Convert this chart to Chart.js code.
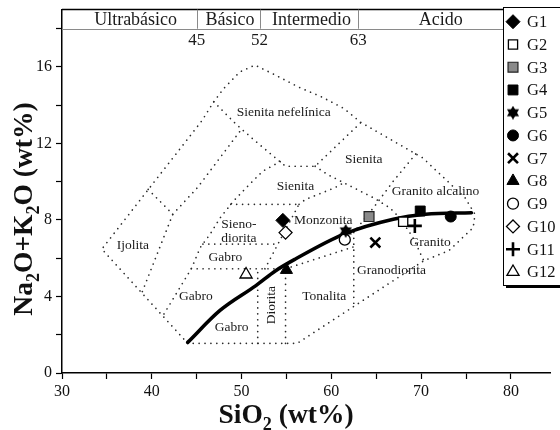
<!DOCTYPE html>
<html><head><meta charset="utf-8">
<script src="https://cdn.jsdelivr.net/npm/chart.js@4.4.1/dist/chart.umd.min.js"></script>
<style>html,body{margin:0;padding:0;background:#fff}canvas{display:block}</style>
</head><body>
<canvas id="c" width="560" height="430"></canvas>
<script>
// ---------------- DATA ----------------
const groups  = ['G1','G2','G3','G4','G5','G6','G7','G8','G9','G10','G11','G12'];
const sio2    = [54.6, 68.0, 64.2, 69.9, 61.6, 73.3, 64.9, 55.0, 61.5, 54.9, 69.3, 50.5];
const alkalis = [7.98, 7.91, 8.18, 8.47, 7.43, 8.18, 6.82, 5.39, 6.97, 7.34, 7.69, 5.15];

// alkaline / subalkaline divide (thick curve)
const curveSiO2 = [44.0, 47.6, 51.6, 53.8, 56.0, 61.4, 66.9, 70.5, 75.6];
const curveAlk  = [1.6, 3.27, 4.57, 5.35, 5.96, 7.26, 8.04, 8.3, 8.38];

// axis ticks
const xTickValues = [30,35,40,45,50,55,60,65,70,75,80];
const yTickValues = [0,2,4,6,8,10,12,14,16,18];

// silica classes (top band)
const classNames   = ['Ultrabásico','Básico','Intermedio','Acido'];
const classCenters = [38.2, 48.7, 57.8, 72.2];
const classLimits  = [45, 52, 63];

// field boundaries (SiO2, Na2O+K2O)
const outerLine    = [[44.0,1.55],[34.44,6.48],[45.6,13.2],[46.9,14.18],[48.0,14.87],[49.8,15.74],[51.5,16.1],[53.8,15.57],[56.3,14.96],[58.9,14.44],[61.4,13.83],[63.3,13.1],[70.2,11.24],[74.9,9.16],[76.0,8.3],[75.8,7.6],[73.1,6.4],[70.3,5.87],[56.2,1.55],[44.0,1.55]];
const ijolitaLine  = [[39.6,9.6],[42.34,8.3],[38.9,4.2]];
const tephriteLine = [[42.34,8.3],[45.1,9.7],[50.0,12.75]];
const gabbroLine   = [[54.3,11.05],[52.35,10.55],[50.5,9.68],[49.1,8.99],[47.6,8.1],[46.5,7.26],[45.4,6.56],[44.4,5.45],[43.6,4.83],[41.25,3.0]];
const nephLine     = [[46.9,14.18],[49.4,13.0],[51.6,12.1],[54.9,10.81],[58.2,10.81],[63.3,13.1]];
const syeniteLine  = [[58.2,10.81],[59.6,10.37],[61.8,9.85],[64.7,9.16],[66.5,8.64],[67.6,8.12],[69.1,7.08],[70.3,5.87]];
const alkGranLine  = [[69.4,11.45],[66.9,10.03],[65.0,8.83],[62.5,7.35]];
const granodLine   = [[62.5,7.35],[62.5,3.45]];
const tonalitaTop  = [[54.9,5.45],[62.5,6.6]];
const dioritaLeft  = [[51.8,1.55],[51.8,5.45]];
const dioritaRight = [[54.9,1.55],[54.9,5.45]];
const gabbroTop    = [[44.4,5.45],[54.9,5.45]];
const syenoBottom  = [[45.7,6.74],[54.05,6.74]];
const syenoTop     = [[48.8,8.82],[56.4,8.82]];
const monzLeft     = [[52.6,5.45],[56.4,8.82]];
const monzTop      = [[56.4,8.82],[57.1,9.07],[60.35,9.68],[61.4,9.95]];
const fieldLines = [outerLine, ijolitaLine, tephriteLine, gabbroLine, nephLine, syeniteLine, alkGranLine,
  granodLine, tonalitaTop, dioritaLeft, dioritaRight, gabbroTop, syenoBottom, syenoTop, monzLeft, monzTop];

// field names and their anchor (SiO2, Na2O+K2O)
const fieldNames = ['Sienita nefelínica','Sienita','Sienita','Granito alcalino','Monzonita','Sieno-','diorita',
  'Gabro','Ijolita','Gabro','Gabro','Diorita','Tonalita','Granodiorita','Granito'];
const fieldX = [54.7, 63.6, 56.0, 71.6, 59.1, 49.7, 49.7, 48.2, 37.9, 44.9, 48.9, 53.35, 59.2, 66.7, 71.0];
const fieldY = [13.6, 11.15, 9.76, 9.5, 7.95, 7.75, 7.05, 6.05, 6.65, 4.0, 2.4, 3.55, 4.0, 5.35, 6.85];
const verticalNames = ['Diorita'];

// ---------------- STYLE ----------------
const FONT = "'Liberation Serif','Times New Roman',serif";
Chart.defaults.font.family = FONT;

function makeHexagram(size) {
  const c = document.createElement('canvas'); c.width = c.height = size;
  const g = c.getContext('2d'); const r = size / 2;
  g.fillStyle = '#000';
  [-Math.PI / 2, Math.PI / 2].forEach(off => {
    g.beginPath();
    for (let i = 0; i < 3; i++) {
      const a = off + i * 2 * Math.PI / 3;
      const px = r + r * Math.cos(a), py = r + r * Math.sin(a);
      i ? g.lineTo(px, py) : g.moveTo(px, py);
    }
    g.closePath(); g.fill();
  });
  return c;
}
const star = makeHexagram(14);
const markerStyles = [
  {pointStyle:'rectRot',  radius:7,   bg:'#000',    border:'#000', bw:1},
  {pointStyle:'rect',     radius:6.5, bg:'#fff',    border:'#000', bw:1.3},
  {pointStyle:'rect',     radius:7,   bg:'#8a8a8a', border:'#222', bw:1.2},
  {pointStyle:'rect',     radius:7,   bg:'#000',    border:'#000', bw:1},
  {pointStyle:star,       radius:7,   bg:'#000',    border:'#000', bw:0},
  {pointStyle:'circle',   radius:5.5, bg:'#000',    border:'#000', bw:1},
  {pointStyle:'crossRot', radius:7,   bg:'#000',    border:'#000', bw:2.6},
  {pointStyle:'triangle', radius:7,   bg:'#000',    border:'#000', bw:1},
  {pointStyle:'circle',   radius:5.5, bg:'#fff',    border:'#000', bw:1.3},
  {pointStyle:'rectRot',  radius:6.5, bg:'#fff',    border:'#000', bw:1.3},
  {pointStyle:'cross',    radius:7,   bg:'#000',    border:'#000', bw:2.6},
  {pointStyle:'triangle', radius:7,   bg:'#fff',    border:'#000', bw:1.3}
];

// ---------------- DATASETS ----------------
const datasets = [];
groups.forEach((g, i) => {
  const s = markerStyles[i];
  datasets.push({
    label: g, data: [{x: sio2[i], y: alkalis[i]}],
    pointStyle: s.pointStyle, pointRadius: s.radius, pointBackgroundColor: s.bg,
    pointBorderColor: s.border, pointBorderWidth: s.bw, order: 0
  });
});
datasets.push({
  label: 'curve', data: curveSiO2.map((x, i) => ({x, y: curveAlk[i]})),
  showLine: true, borderColor: '#000', borderWidth: 3.6, pointRadius: 0,
  cubicInterpolationMode: 'monotone', borderCapStyle: 'round', order: 1
});
fieldLines.forEach(line => {
  datasets.push({
    label: 'field', data: line.map(p => ({x: p[0], y: p[1]})),
    showLine: true, borderColor: '#2a2a2a', borderWidth: 1.7, borderDash: [0.001, 5.9],
    borderCapStyle: 'round', borderJoinStyle: 'round', pointRadius: 0, tension: 0, order: 2
  });
});

// ---------------- DECORATION PLUGIN ----------------
function drawRich(ctx, parts, x, y, size) {
  const f = s => `bold ${s}px ${FONT}`;
  let total = 0;
  const w = parts.map(([t, sub]) => { ctx.font = f(sub ? size * 0.66 : size); const m = ctx.measureText(t).width; total += m; return m; });
  let cx = x - total / 2;
  ctx.textAlign = 'left'; ctx.textBaseline = 'alphabetic';
  parts.forEach(([t, sub], i) => {
    ctx.font = f(sub ? size * 0.66 : size);
    ctx.fillText(t, cx, sub ? y + size * 0.24 : y);
    cx += w[i];
  });
}
const xTitleParts = [['SiO',0],['2',1],[' (wt%)',0]];
const yTitleParts = [['Na',0],['2',1],['O+K',0],['2',1],['O (wt%)',0]];

const decor = {
  id: 'decor',
  beforeDatasetsDraw(chart) {
    const {ctx, scales: {x, y}} = chart;
    ctx.save();
    ctx.fillStyle = '#1a1a1a';
    ctx.font = `13.5px ${FONT}`;
    ctx.textAlign = 'center'; ctx.textBaseline = 'middle';
    fieldNames.forEach((n, i) => {
      const px = x.getPixelForValue(fieldX[i]), py = y.getPixelForValue(fieldY[i]);
      if (n === verticalNames[0]) {
        ctx.save(); ctx.translate(px, py); ctx.rotate(-Math.PI / 2); ctx.fillText(n, 0, 0); ctx.restore();
      } else ctx.fillText(n, px, py);
    });
    ctx.restore();
  },
  afterDraw(chart) {
    const {ctx, chartArea: a, scales: {x, y}} = chart;
    ctx.save();
    const yTop = y.getPixelForValue(19), yBand = y.getPixelForValue(18);
    ctx.strokeStyle = '#000'; ctx.lineWidth = 1.5;
    ctx.beginPath(); ctx.moveTo(a.left, yTop); ctx.lineTo(a.right, yTop); ctx.stroke();
    ctx.strokeStyle = '#8a8a8a'; ctx.lineWidth = 1;
    ctx.beginPath(); ctx.moveTo(a.left, Math.round(yBand) + 0.5); ctx.lineTo(a.right, Math.round(yBand) + 0.5); ctx.stroke();
    classLimits.forEach(v => {
      const px = Math.round(x.getPixelForValue(v)) + 0.5;
      ctx.beginPath(); ctx.moveTo(px, yTop); ctx.lineTo(px, yBand); ctx.stroke();
    });
    ctx.fillStyle = '#1a1a1a'; ctx.textAlign = 'center'; ctx.textBaseline = 'middle';
    ctx.font = `18px ${FONT}`;
    classNames.forEach((n, i) => ctx.fillText(n, x.getPixelForValue(classCenters[i]), y.getPixelForValue(18.5) + 1));
    ctx.font = `17px ${FONT}`;
    classLimits.forEach(v => ctx.fillText(String(v), x.getPixelForValue(v), y.getPixelForValue(17.4)));

    ctx.fillStyle = '#111';
    drawRich(ctx, xTitleParts, 286, 423, 27.5);
    ctx.save(); ctx.translate(32, 209); ctx.rotate(-Math.PI / 2);
    drawRich(ctx, yTitleParts, 0, 0, 27.5);
    ctx.restore();

    const lx = 503, ly = 7, lw = 70, lh = 278;
    ctx.fillStyle = '#000';
    ctx.fillRect(lx + 3, ly + 3, lw, lh);
    ctx.fillStyle = '#fff';
    ctx.fillRect(lx, ly, lw, lh);
    ctx.strokeStyle = '#000'; ctx.lineWidth = 1;
    ctx.strokeRect(lx + 0.5, ly + 0.5, lw, lh);
    groups.forEach((g, i) => {
      const s = markerStyles[i];
      const cy = 21.7 + i * 22.75;
      ctx.fillStyle = s.bg; ctx.strokeStyle = s.border; ctx.lineWidth = s.bw;
      Chart.helpers.drawPoint(ctx, {pointStyle: s.pointStyle, radius: s.radius, rotation: 0, borderWidth: s.bw}, 513, cy);
      ctx.fillStyle = '#111'; ctx.font = `16.5px ${FONT}`; ctx.textAlign = 'left'; ctx.textBaseline = 'middle';
      ctx.fillText(g, 527, cy + 1);
    });
    ctx.restore();
  }
};

// ---------------- CHART ----------------
new Chart(document.getElementById('c'), {
  type: 'scatter',
  data: { datasets },
  options: {
    responsive: false, animation: false, devicePixelRatio: 1,
    layout: { padding: { top: 7, left: 0, right: 0, bottom: 0 } },
    plugins: { legend: { display: false }, tooltip: { enabled: false } },
    scales: {
      x: {
        type: 'linear', min: 30, max: 84.4,
        afterBuildTicks: s => { s.ticks = xTickValues.map(v => ({value: v})); },
        ticks: { autoSkip: false, maxRotation: 0, callback: v => (v % 10 === 0 ? String(v) : ''), font: {size: 16}, color: '#111', padding: 3 },
        grid: { drawOnChartArea: false, tickLength: 6, color: '#000', tickWidth: 1.2 },
        border: { color: '#000', width: 1.5 },
        afterFit: s => { s.height = 57; s.paddingLeft = 0; s.paddingRight = 0; }
      },
      y: {
        type: 'linear', min: 0, max: 19,
        afterBuildTicks: s => { s.ticks = yTickValues.map(v => ({value: v})); },
        ticks: { autoSkip: false, callback: v => (v % 4 === 0 ? String(v) : ''), font: {size: 16}, color: '#111', padding: 4 },
        grid: { drawOnChartArea: false, tickLength: 6, color: '#000', tickWidth: 1.2 },
        border: { color: '#000', width: 1.5 },
        afterFit: s => { s.width = 62; s.paddingTop = 0; s.paddingBottom = 0; }
      }
    }
  },
  plugins: [decor]
});
</script>
</body></html>
